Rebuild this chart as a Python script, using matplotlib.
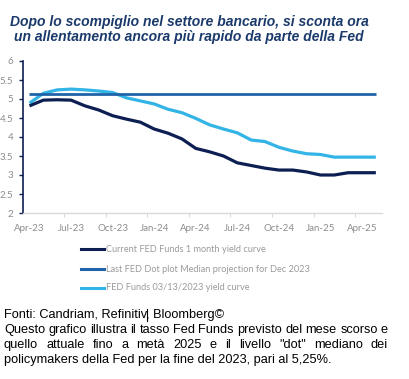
import matplotlib
matplotlib.use("Agg")
import matplotlib.pyplot as plt
from matplotlib.lines import Line2D
import numpy as np

# ---- data ----
months = ["Apr-23", "May-23", "Jun-23", "Jul-23", "Aug-23", "Sep-23", "Oct-23", "Nov-23", "Dec-23",
          "Jan-24", "Feb-24", "Mar-24", "Apr-24", "May-24", "Jun-24", "Jul-24", "Aug-24", "Sep-24",
          "Oct-24", "Nov-24", "Dec-24", "Jan-25", "Feb-25", "Mar-25", "Apr-25", "May-25"]
current_curve = [4.82, 4.97, 4.98, 4.97, 4.82, 4.71, 4.56, 4.47, 4.39, 4.21, 4.10, 3.95, 3.70,
                 3.61, 3.50, 3.32, 3.25, 3.18, 3.13, 3.13, 3.08, 3.00, 3.00, 3.06, 3.06, 3.06]
march_curve = [4.89, 5.15, 5.24, 5.26, 5.24, 5.21, 5.17, 5.03, 4.95, 4.87, 4.73, 4.64, 4.49,
               4.32, 4.21, 4.11, 3.92, 3.88, 3.73, 3.63, 3.56, 3.54, 3.47, 3.47, 3.47, 3.47]
dot_median = [5.125] * len(months)
tick_labels = ["Apr-23", "Jul-23", "Oct-23", "Jan-24", "Apr-24", "Jul-24", "Oct-24", "Jan-25", "Apr-25"]
series_names = ["Current FED Funds 1 month yield curve",
                "Last FED Dot plot Median projection for Dec 2023",
                "FED Funds 03/13/2023 yield curve"]

C_DARK = "#0d1f52"
C_MID = "#1f63a8"
C_LIGHT = "#33b4e6"
TICK_C = "#8c8c8c"
LEG_C = "#9a9a9a"
TITLE_C = "#1b3a6b"

W, H = 410, 379
fig = plt.figure(figsize=(W / 100, H / 100), dpi=100)

def fx(px):
    return px / W

def fy(py):
    return 1 - py / H

ax = fig.add_axes([fx(23), fy(213), fx(382) - fx(23), fy(61) - fy(213)])
x = np.arange(len(months))
ax.plot(x, march_curve, color=C_LIGHT, lw=2.3, solid_capstyle="butt", zorder=3)
ax.plot(x, dot_median, color=C_MID, lw=2.0, solid_capstyle="butt", zorder=4)
ax.plot(x, current_curve, color=C_DARK, lw=2.3, solid_capstyle="butt", zorder=5)

px_per_month = (362 - 29.5) / 24
ax.set_xlim(-(29.5 - 23) / px_per_month, (382 - 29.5) / px_per_month)
ax.set_ylim(2, 6)

pos = [months.index(t) for t in tick_labels]
ax.set_xticks(pos)
ax.set_xticklabels(tick_labels)
ax.set_xticks([p + 2.5 for p in pos[:-1]], minor=True)
ax.tick_params(axis="x", which="major", length=0, pad=8, labelsize=7, labelcolor=TICK_C)
ax.tick_params(axis="x", which="minor", length=3, color="#d0d0d0", direction="out")
ax.set_yticks(np.arange(2, 6.01, 0.5))
ax.set_yticklabels([f"{v:g}" for v in np.arange(2, 6.01, 0.5)])
ax.tick_params(axis="y", length=3, color=C_DARK, labelsize=7, labelcolor=TICK_C, pad=4, width=1)
for lab in ax.get_xticklabels() + ax.get_yticklabels():
    lab.set_family(["Lato", "DejaVu Sans"])

for s in ["top", "right"]:
    ax.spines[s].set_visible(False)
ax.spines["left"].set_color(C_DARK)
ax.spines["left"].set_linewidth(1.2)
ax.spines["bottom"].set_color("#d9d9d9")
ax.spines["bottom"].set_linewidth(1.0)

# legend (manual)
leg_y = [249, 269, 288]
leg_cols = [C_DARK, C_MID, C_LIGHT]
for yy, c, name in zip(leg_y, leg_cols, series_names):
    fig.add_artist(Line2D([fx(81), fx(104)], [fy(yy), fy(yy)], color=c, lw=2.2,
                          transform=fig.transFigure))
    fig.text(fx(106), fy(yy), name, va="center", ha="left", fontsize=6.6,
             color=LEG_C, family=["Lato", "DejaVu Sans"])

# title
fig.text(fx(189), fy(29.5),
         "Dopo lo scompiglio nel settore bancario, si sconta ora\nun allentamento ancora più rapido da parte della Fed",
         ha="center", va="center", fontsize=10, fontweight="bold", fontstyle="italic",
         color=TITLE_C, family=["Liberation Sans", "DejaVu Sans"], linespacing=1.1)

# footer
foot_font = dict(fontsize=9.2, color="black", family=["Liberation Sans", "DejaVu Sans"], va="center")
lines = [
    ("Fonti: Candriam, Refinitiv, Bloomberg©", False),
    ("Questo grafico illustra il tasso Fed Funds previsto del mese scorso e", True),
    ("quello attuale fino a metà 2025 e il livello \"dot\" mediano dei", True),
    ("policymakers della Fed per la fine del 2023, pari al 5,25%.", False),
]
ys = [315, 330, 345, 360]
x0, x1 = 4, 388
renderer = fig.canvas.get_renderer()
for (txt, just), yy in zip(lines, ys):
    if not just:
        fig.text(fx(x0), fy(yy), txt, ha="left", **foot_font)
        continue
    words = txt.split(" ")
    arts = [fig.text(0, fy(yy), w, ha="left", **foot_font) for w in words]
    widths = [a.get_window_extent(renderer).width for a in arts]
    gap = max((x1 - x0 - sum(widths)) / (len(words) - 1), 2.0)
    cur = x0
    for a, w in zip(arts, widths):
        a.set_x(fx(cur))
        cur += w + gap

# text cursor mark visible after "Refinitiv" in the source image
probe = fig.text(0, 0, "Fonti: Candriam, Refinitiv", **foot_font)
cx = x0 + probe.get_window_extent(renderer).width
probe.remove()
fig.add_artist(Line2D([fx(cx), fx(cx)], [fy(321), fy(309)], color="black", lw=0.8,
                      transform=fig.transFigure))

fig.savefig("out.png", dpi=100)
